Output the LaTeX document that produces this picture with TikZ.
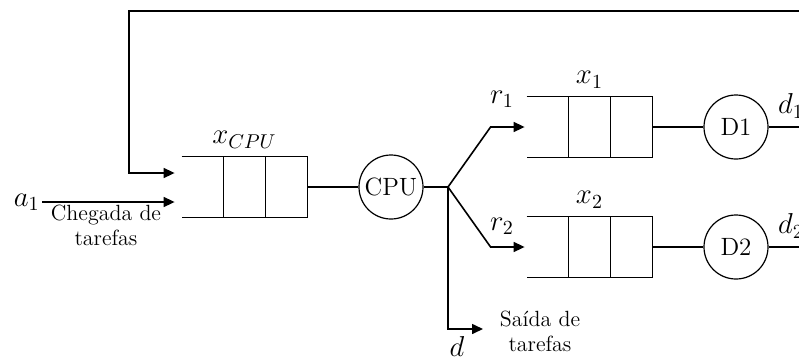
\documentclass[tikz,border=0pt]{standalone}
\usepackage{amsmath}
\usepackage{tikz}
\usetikzlibrary{arrows.meta,positioning,calc}

\begin{document}
\begin{tikzpicture}[
  x=0.5pt,y=-0.5pt,
  font=\fontsize{11}{12.5}\selectfont,
  fila/.style={minimum width=62.5pt,minimum height=30pt,inner sep=0pt},
  servidor/.style={circle,draw,semithick,minimum size=32pt,inner sep=0pt,
                   font=\fontsize{12.5}{14}\selectfont},
  linha/.style={semithick},
  seta/.style={-{Triangle[length=5.5pt,width=5pt]},thick},
  rotulo/.style={font=\fontsize{14.5}{16}\selectfont,inner sep=1pt},
  node distance=3pt
]
\useasboundingbox (0,0) rectangle (799,359);
% filas
\node[fila] (qcpu) at (244.5,187) {};
\node[fila] (q1) at (589.5,127) {};
\node[fila] (q2) at (589.5,247) {};
\foreach \q in {qcpu,q1,q2} {
  \draw[linha] (\q.north west) -- (\q.north east) -- (\q.south east) -- (\q.south west);
  \draw[linha] ($(\q.north west)!1/3!(\q.north east)$) -- ($(\q.south west)!1/3!(\q.south east)$);
  \draw[linha] ($(\q.north west)!2/3!(\q.north east)$) -- ($(\q.south west)!2/3!(\q.south east)$);
}
% servidores
\node[servidor] (cpu) at (391,187) {CPU};
\node[servidor] (d1) at (736,127) {D1};
\node[servidor] (d2) at (736,247) {D2};
\coordinate (j) at (448,187);
\coordinate (a1) at (42,202);
\coordinate (topo) at (129,11);
\coordinate (ret) at (810,11);
\coordinate (saida) at (483,329);
\coordinate (fim1) at (810,127);
\coordinate (fim2) at (810,247);
% ligacoes
\draw[linha] (qcpu.east) -- (cpu.west);
\draw[linha] (cpu.east) -- (j);
\draw[linha] (q1.east) -- (d1.west);
\draw[linha] (q2.east) -- (d2.west);
\draw[linha] (d1.east) -- (fim1);
\draw[linha] (d2.east) -- (fim2);
\draw[seta] (j) -- ([xshift=-18pt]q1.west) -- ([xshift=-1pt]q1.west);
\draw[seta] (j) -- ([xshift=-18pt]q2.west) -- ([xshift=-1pt]q2.west);
\draw[seta] (j) |- (saida);
\draw[seta,shorten >=3.5pt] (a1) -- ([yshift=-7.5pt]qcpu.west);
\draw[seta,shorten >=3.5pt] (ret) -- (topo) |- ([yshift=7pt]qcpu.west);
% rotulos
\node[rotulo,left=0pt of a1] (la1) {$a_1$};
\node[align=center] (chegada) at (106,225) {Chegada de\\tarefas};
\node[rotulo,above=of qcpu] (lxcpu) {$x_{CPU}$};
\node[rotulo,above=of q1] (lx1) {$x_1$};
\node[rotulo,above=of q2] (lx2) {$x_2$};
\node[rotulo] (lr1) at (502,99) {$r_1$};
\node[rotulo] (lr2) at (502,226) {$r_2$};
\node[rotulo] (ld) at (457,346) {$d$};
\node[align=center] (saidatxt) at (540,331) {Saída de\\tarefas};
\node[rotulo] (ld1) at (791,106) {$d_1$};
\node[rotulo] (ld2) at (791,226) {$d_2$};
\end{tikzpicture}
\end{document}
